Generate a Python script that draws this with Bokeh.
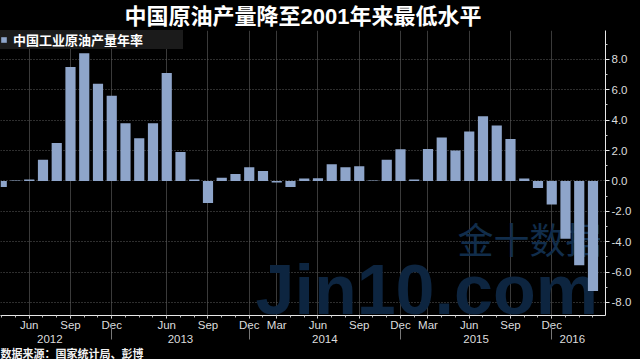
from bokeh.plotting import figure
from bokeh.models import Range1d, FixedTicker, LinearAxis, Label, PrintfTickFormatter, ColumnDataSource, Title
from bokeh.embed import file_html
from bokeh.resources import INLINE

# ---------------- data ----------------
title_text = "中国原油产量降至2001年来最低水平"
series_name = "中国工业原油产量年率"
source_text = "数据来源：国家统计局、彭博"

periods = ["2012-04", "2012-05", "2012-06", "2012-07", "2012-08", "2012-09", "2012-10", "2012-11", "2012-12",
           "2013-03", "2013-04", "2013-05", "2013-06", "2013-07", "2013-08", "2013-09", "2013-10", "2013-11", "2013-12",
           "2014-02", "2014-03", "2014-04", "2014-05", "2014-06", "2014-07", "2014-08", "2014-09", "2014-10", "2014-11", "2014-12",
           "2015-02", "2015-03", "2015-04", "2015-05", "2015-06", "2015-07", "2015-08", "2015-09", "2015-10", "2015-11", "2015-12",
           "2016-02", "2016-03", "2016-04"]
yoy = [-0.4, 0.02, 0.1, 1.4, 2.5, 7.5, 8.4, 6.4, 5.6,
       3.8, 2.8, 3.8, 7.1, 1.9, 0.1, -1.45, 0.2, 0.45, 0.9,
       0.65, -0.1, -0.4, 0.15, 0.18, 1.1, 0.9, 0.97, 0.02, 1.4, 2.08,
       0.1, 2.1, 2.85, 2.0, 3.25, 4.25, 3.65, 2.75, 0.15, -0.47, -1.55,
       -3.8, -5.55, -7.25]

tick_periods = ["2012-06", "2012-09", "2012-12", "2013-06", "2013-09", "2013-12", "2014-03",
                "2014-06", "2014-09", "2014-12", "2015-03", "2015-06", "2015-09", "2015-12"]
tick_labels = ["Jun", "Sep", "Dec", "Jun", "Sep", "Dec", "Mar",
               "Jun", "Sep", "Dec", "Mar", "Jun", "Sep", "Dec"]
years = ["2012", "2013", "2014", "2015", "2016"]
y_ticks = [-8, -6, -4, -2, 0, 2, 4, 6, 8]
y_minor = [-9, -7, -5, -3, -1, 1, 3, 5, 7, 9]

# ---------------- derived positions ----------------
slots = list(range(len(periods)))
idx = {per: i for i, per in enumerate(periods)}
major = [idx[t] for t in tick_periods]
year_pos = []
for y in years:
    members = [i for i, per in enumerate(periods) if per.startswith(y)]
    year_pos.append(sum(members) / len(members) - 0.5)
sep_pos = [idx[y + "-12"] for y in years[:-1]]

W, H = 640, 359
X0, X1 = -0.09, 43.91
Y0, Y1 = -8.86, 9.9
FR_L, FR_R, FR_T, FR_B = 0, 605, 28, 317   # frame edges in canvas pixels
LATIN_CJK = "Liberation Sans, Noto Sans CJK SC"


def sx(px):
    return X0 + (px - FR_L) / (FR_R - FR_L) * (X1 - X0)


def sy(py):
    return Y1 - (py - FR_T) / (FR_B - FR_T) * (Y1 - Y0)


p = figure(width=W, height=H, output_backend="svg", toolbar_location=None,
           x_range=Range1d(X0, X1), y_range=Range1d(Y0, Y1),
           y_axis_location="right",
           background_fill_color="black", border_fill_color="black",
           outline_line_color=None,
           min_border_left=0, min_border_right=W - FR_R,
           min_border_top=FR_T, min_border_bottom=H - FR_B)

# title
p.title.text = title_text
p.title.align = "center"
p.title.offset = 18
p.title.standoff = 3
p.title.text_font = LATIN_CJK
p.title.text_font_style = "bold"
p.title.text_font_size = "22px"
p.title.text_color = "white"

# watermark (behind bars)
p.add_layout(Label(x=sx(255), y=sy(331), text="Jin10.com", text_font="Liberation Sans",
                   text_font_style="bold", text_font_size="70px", text_color="#0d2540",
                   text_baseline="bottom", text_align="left", level="underlay"))
p.add_layout(Label(x=sx(457), y=sy(238), text="金十数据", text_font="Noto Sans CJK SC",
                   text_font_size="36px", text_color="#112d4b",
                   text_baseline="middle", text_align="left", level="underlay"))

src = ColumnDataSource(dict(x=slots, yoy=yoy, period=periods))
p.vbar(x="x", top="yoy", width=0.74, source=src, fill_color="#8ea5ca",
       line_color=None, legend_label=series_name)

# x axis (months)
xt = FixedTicker(ticks=major, minor_ticks=slots)
ax = p.xaxis[0]
ax.ticker = xt
ax.major_label_overrides = {m: lab for m, lab in zip(major, tick_labels)}
ax.axis_line_color = "#e8e8e8"
ax.major_tick_line_color = "#e8e8e8"
ax.major_tick_out = 3
ax.major_tick_in = 0
ax.minor_tick_line_color = "#bbbbbb"
ax.minor_tick_out = 2
ax.minor_tick_in = 0
ax.major_label_text_color = "#dddddd"
ax.major_label_text_font = "Liberation Sans"
ax.major_label_text_font_size = "11.5px"
ax.major_label_standoff = 0

# year row
yr_ax = LinearAxis(ticker=FixedTicker(ticks=year_pos, minor_ticks=sep_pos),
                   major_label_overrides={yp: y for yp, y in zip(year_pos, years)})
yr_ax.axis_line_color = None
yr_ax.major_tick_line_color = None
yr_ax.major_tick_out = 0
yr_ax.major_tick_in = 0
yr_ax.minor_tick_line_color = "#777777"
yr_ax.minor_tick_out = 6
yr_ax.minor_tick_in = 8
yr_ax.major_label_standoff = -5
yr_ax.major_label_text_color = "#dddddd"
yr_ax.major_label_text_font = "Liberation Sans"
yr_ax.major_label_text_font_size = "11.5px"
p.add_layout(yr_ax, "below")

# source line
p.add_layout(Title(text=source_text, align="left", offset=0, standoff=0,
                   text_font=LATIN_CJK, text_font_style="bold",
                   text_font_size="11px", text_color="#f2f2f2"), "below")

# right value axis
yt = FixedTicker(ticks=y_ticks, minor_ticks=y_minor)
ry = p.yaxis[0]
ry.ticker = yt
ry.formatter = PrintfTickFormatter(format="%.1f")
ry.axis_line_color = "#e8e8e8"
ry.major_tick_line_color = "#e8e8e8"
ry.major_tick_out = 4
ry.major_tick_in = 0
ry.minor_tick_line_color = "#cccccc"
ry.minor_tick_out = 2
ry.minor_tick_in = 0
ry.major_label_text_color = "#dddddd"
ry.major_label_text_font = "Liberation Sans"
ry.major_label_text_font_size = "11.5px"
ry.major_label_standoff = 2

# grids
p.xgrid.ticker = xt
p.xgrid.grid_line_color = "#3a3a3a"
p.xgrid.grid_line_width = 1
p.ygrid.ticker = yt
p.ygrid.grid_line_color = "#5c5c5c"
p.ygrid.grid_line_dash = "1 2"

# legend
lg = p.legend[0]
lg.location = "top_left"
lg.margin = 0
lg.padding = 2
lg.spacing = 0
lg.label_text_font = LATIN_CJK
lg.label_text_font_style = "bold"
lg.label_text_font_size = "13px"
lg.label_text_color = "white"
lg.glyph_width = 7
lg.glyph_height = 7
lg.label_standoff = 6
lg.label_width = 170
lg.background_fill_color = "#1b1b1b"
lg.background_fill_alpha = 1
lg.border_line_color = None

PAGE_TEMPLATE = "{% block preamble %}<style>html, body { background: #000000; }</style>{% endblock %}"
open("out.html", "w", encoding="utf-8").write(file_html(p, INLINE, template=PAGE_TEMPLATE))
